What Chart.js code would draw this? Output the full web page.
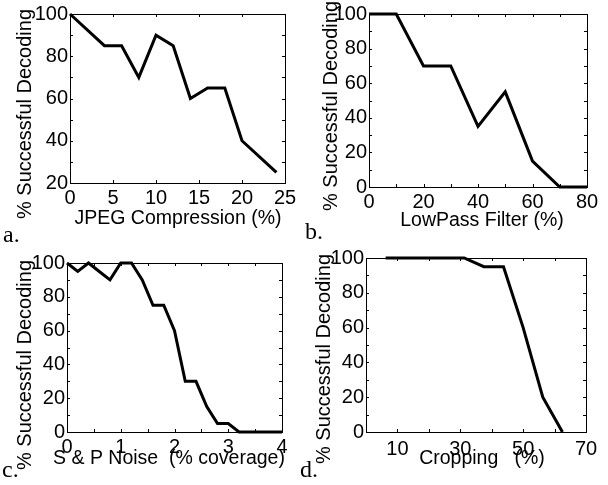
<!DOCTYPE html>
<html>
<head>
<meta charset="utf-8">
<script src="https://cdn.jsdelivr.net/npm/chart.js@4.4.0/dist/chart.umd.min.js"></script>
<style>
html,body{margin:0;padding:0;background:#fff;}
#wrap{position:relative;width:608px;height:485px;overflow:hidden;background:#fff;}
canvas{position:absolute;}
</style>
</head>
<body>
<div id="wrap">
<canvas id="ca" width="304" height="245" style="left:0;top:0;width:304px;height:245px"></canvas>
<canvas id="cb" width="312" height="245" style="left:296px;top:0;width:312px;height:245px"></canvas>
<canvas id="cc" width="304" height="240" style="left:0;top:245px;width:304px;height:240px"></canvas>
<canvas id="cd" width="312" height="240" style="left:296px;top:245px;width:312px;height:240px"></canvas>
</div>
<script>
// ---- data ----
const jpegX = [0, 4, 6, 8, 10, 12, 14, 16, 18, 20, 24];
const jpegY = [100, 85, 85, 70, 90, 85, 60, 65, 65, 40, 25];

const lowpassX = [0, 10, 20, 30, 40, 50, 60, 70, 80];
const lowpassY = [100, 100, 70, 70, 35, 55, 15, 0, 0];

const noiseX = [0, 0.2, 0.4, 0.6, 0.8, 1.0, 1.2, 1.4, 1.6, 1.8, 2.0, 2.2, 2.4, 2.6, 2.8, 3.0, 3.2, 3.4, 3.6, 3.8, 4.0];
const noiseY = [100, 95, 100, 95, 90, 100, 100, 90, 75, 75, 60, 30, 30, 15, 5, 5, 0, 0, 0, 0, 0];

const cropX = [6.25, 12.5, 18.75, 25, 31.25, 37.5, 43.75, 50, 56.25, 62.5];
const cropY = [100, 100, 100, 100, 100, 95, 95, 60, 20, 0];

const yTitle = "% Successful Decoding";
const xTitles = ["JPEG Compression (%)", "LowPass Filter (%)", "S & P Noise  (% coverage)", "Cropping   (%)"];
const panelLabels = ["a.", "b.", "c.", "d."];

// ---- styling helpers ----
const FONT = "'Liberation Sans', Arial, Helvetica, sans-serif";

const framePlugin = {
  id: 'frame',
  beforeDatasetsDraw(chart) {
    const {ctx, chartArea: {left, right, top, bottom}} = chart;
    const xs = chart.scales.x, ys = chart.scales.y;
    const tl = 3;
    ctx.save();
    ctx.strokeStyle = '#000';
    ctx.lineWidth = 1;
    ctx.strokeRect(left + 0.5, top + 0.5, right - left, bottom - top);
    ctx.beginPath();
    xs.ticks.forEach(t => {
      const px = Math.round(xs.getPixelForValue(t.value)) + 0.5;
      ctx.moveTo(px, bottom); ctx.lineTo(px, bottom - tl);
      ctx.moveTo(px, top); ctx.lineTo(px, top + tl);
    });
    ys.ticks.forEach(t => {
      const py = Math.round(ys.getPixelForValue(t.value)) + 0.5;
      ctx.moveTo(left, py); ctx.lineTo(left + tl, py);
      ctx.moveTo(right, py); ctx.lineTo(right - tl, py);
    });
    ctx.stroke();
    ctx.restore();
  }
};

const textPlugin = {
  id: 'texts',
  afterDraw(chart, args, o) {
    const ctx = chart.ctx;
    ctx.save();
    ctx.fillStyle = '#000';
    // y title
    ctx.font = `20px ${FONT}`;
    ctx.textAlign = 'center';
    ctx.textBaseline = 'middle';
    ctx.save();
    ctx.translate(o.yx, o.yy);
    ctx.rotate(-Math.PI / 2);
    ctx.fillText(o.ytitle, 0, 0);
    ctx.restore();
    // x title
    ctx.font = `19.5px ${FONT}`;
    ctx.fillText(o.xtitle, o.xx, o.xy);
    // panel label
    ctx.font = `24px 'Liberation Serif', 'Times New Roman', serif`;
    ctx.textAlign = 'left';
    ctx.textBaseline = 'alphabetic';
    ctx.fillText(o.label, o.lx, o.ly);
    ctx.restore();
  }
};

function makeChart(id, xs, ys, cfg) {
  const pts = xs.map((x, i) => ({x: x, y: ys[i]}));
  const W = cfg.W, H = cfg.H;
  return new Chart(document.getElementById(id), {
    type: 'line',
    data: { datasets: [{
      data: pts,
      borderColor: '#000',
      borderWidth: 3,
      pointRadius: 0,
      fill: false,
      tension: 0,
      borderJoinStyle: 'miter',
      clip: false
    }]},
    options: {
      responsive: false,
      animation: false,
      events: [],
      layout: { padding: { left: 0, top: cfg.T, right: W - cfg.R, bottom: 0 } },
      plugins: {
        legend: { display: false },
        tooltip: { enabled: false },
        texts: cfg.text
      },
      scales: {
        x: {
          type: 'linear',
          min: cfg.xmin, max: cfg.xmax,
          grid: { display: false, drawTicks: false },
          border: { display: false },
          ticks: {
            stepSize: cfg.xstep,
            autoSkip: false,
            maxRotation: 0,
            padding: cfg.xpad,
            color: '#000',
            font: { family: FONT, size: 20 },
            callback: cfg.xlab
          },
          afterFit(s) { s.height = H - cfg.B; s.paddingLeft = 0; s.paddingRight = 0; }
        },
        y: {
          type: 'linear',
          min: cfg.ymin, max: 100,
          grid: { display: false, drawTicks: false },
          border: { display: false },
          ticks: {
            stepSize: 10,
            autoSkip: false,
            padding: 2,
            color: '#000',
            font: { family: FONT, size: 20 },
            callback: v => (v % 20 === 0 ? String(v) : '')
          },
          afterFit(s) { s.width = cfg.L; s.paddingTop = 0; s.paddingBottom = 0; }
        }
      }
    },
    plugins: [framePlugin, textPlugin]
  });
}

makeChart('ca', jpegX, jpegY, {
  W: 304, H: 245, L: 70, R: 285, T: 14, B: 183, xpad: 3,
  xmin: 0, xmax: 25, xstep: 5, ymin: 20,
  xlab: v => String(v),
  text: { ytitle: yTitle, yx: 25, yy: 114, xtitle: xTitles[0], xx: 178, xy: 219, label: panelLabels[0], lx: 3, ly: 242 }
});
makeChart('cb', lowpassX, lowpassY, {
  W: 312, H: 245, L: 73, R: 291, T: 14, B: 187, xpad: 3,
  xmin: 0, xmax: 80, xstep: 10, ymin: 0,
  xlab: v => (v % 20 === 0 ? String(v) : ''),
  text: { ytitle: yTitle, yx: 35, yy: 106, xtitle: xTitles[1], xx: 186, xy: 221, label: panelLabels[1], lx: 9, ly: 239 }
});
makeChart('cc', noiseX, noiseY, {
  W: 304, H: 240, L: 67, R: 282, T: 18, B: 187, xpad: 3,
  xmin: 0, xmax: 4, xstep: 0.5, ymin: 0,
  xlab: v => (Number.isInteger(v) ? String(v) : ''),
  text: { ytitle: yTitle, yx: 25, yy: 120, xtitle: xTitles[2], xx: 169, xy: 214, label: panelLabels[2], lx: 2, ly: 232 }
});
makeChart('cd', cropX, cropY, {
  W: 312, H: 240, L: 70, R: 290, T: 13, B: 187, xpad: 5,
  xmin: 0, xmax: 70, xstep: 10, ymin: 0,
  xlab: v => (v % 20 === 10 ? String(v) : ''),
  text: { ytitle: yTitle, yx: 28, yy: 114, xtitle: xTitles[3], xx: 186, xy: 214, label: panelLabels[3], lx: 4, ly: 232 }
});
</script>
</body>
</html>
